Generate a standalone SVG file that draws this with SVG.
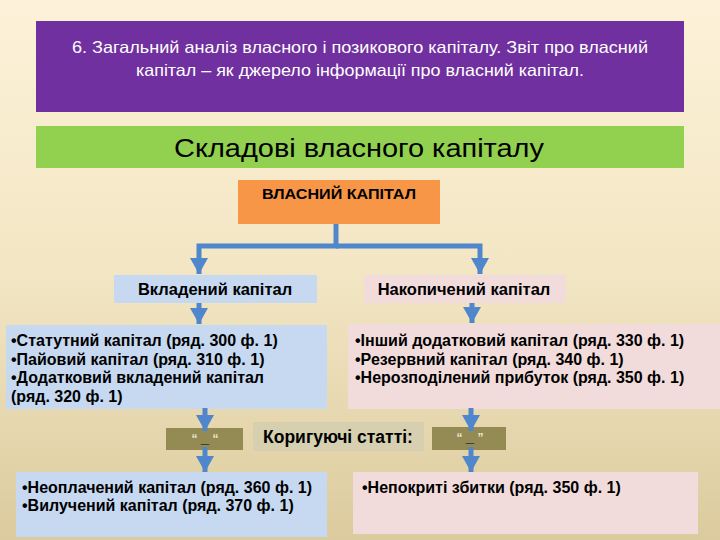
<svg xmlns="http://www.w3.org/2000/svg" width="720" height="540" viewBox="0 0 720 540">
<defs>
<linearGradient id="bg" x1="0" y1="0" x2="0" y2="1">
<stop offset="0" stop-color="#fdf2d9"/>
<stop offset="0.5" stop-color="#f3e6c4"/>
<stop offset="1" stop-color="#dbcb9e"/>
</linearGradient>
<marker id="ah" viewBox="0 0 16 18" refX="16" refY="9" markerWidth="16" markerHeight="18" markerUnits="userSpaceOnUse" orient="auto">
<polygon points="0,0 16,9 0,18" fill="#4f86cc"/>
</marker>
<style>
.t{font-family:"Liberation Sans",Arial,sans-serif;}
.b{font-family:"Liberation Sans",Arial,sans-serif;font-weight:bold;font-size:16px;fill:#000;}
.lb{font-size:16.5px;}
.conn path{fill:none;stroke:#4f86cc;stroke-width:5;marker-end:url(#ah);}
.blue{fill:#c6d9f1;}
.pink{fill:#f2dcdb;}
.olive{fill:#948a54;}
.q{fill:#efe9cf;font-size:12px;font-weight:bold;}
.u{fill:#000;font-size:15px;font-weight:bold;}
</style>
</defs>
<rect width="720" height="540" fill="url(#bg)"/>

<g id="title">
<rect x="36" y="21" width="648" height="91" fill="#7030a0"/>
<text class="t" x="360" y="53" font-size="16.5" fill="#fff" text-anchor="middle" textLength="576" lengthAdjust="spacingAndGlyphs">6. Загальний аналіз власного і позикового капіталу. Звіт про власний</text>
<text class="t" x="360" y="76" font-size="16.5" fill="#fff" text-anchor="middle" textLength="448" lengthAdjust="spacingAndGlyphs">капітал – як джерело інформації про власний капітал.</text>
</g>

<g id="heading">
<rect x="36" y="126" width="648" height="42" fill="#92d050"/>
<text class="t" x="359" y="157" font-size="26" fill="#000" text-anchor="middle" textLength="370" lengthAdjust="spacingAndGlyphs">Складові власного капіталу</text>
</g>

<g id="own-capital">
<rect x="238" y="180" width="202" height="44" fill="#f79646"/>
<text class="t" x="339" y="199" font-size="14" font-weight="bold" fill="#000" text-anchor="middle" textLength="154" lengthAdjust="spacingAndGlyphs">ВЛАСНИЙ КАПІТАЛ</text>
</g>

<g id="invested">
<rect class="blue" x="114" y="275" width="203" height="28"/>
<text class="b lb" x="215" y="295" text-anchor="middle">Вкладений капітал</text>
</g>

<g id="accumulated">
<rect class="pink" x="364" y="275" width="202" height="28"/>
<text class="b lb" x="464" y="295" text-anchor="middle">Накопичений капітал</text>
</g>

<g id="invested-items">
<rect class="blue" x="6" y="325" width="321" height="84"/>
<text class="b" x="11" y="346">•Статутний капітал (ряд. 300 ф. 1)</text>
<text class="b" x="11" y="364.5">•Пайовий капітал (ряд. 310 ф. 1)</text>
<text class="b" x="11" y="383">•Додатковий вкладений капітал</text>
<text class="b" x="11" y="401.5">(ряд. 320 ф. 1)</text>
</g>

<g id="accumulated-items">
<rect class="pink" x="348" y="324" width="372" height="85"/>
<text class="b" x="355" y="346">•Інший додатковий капітал (ряд. 330 ф. 1)</text>
<text class="b" x="355" y="364.5">•Резервний капітал (ряд. 340 ф. 1)</text>
<text class="b" x="355" y="383">•Нерозподілений прибуток (ряд. 350 ф. 1)</text>
</g>

<g id="corrective">
<rect x="253" y="422" width="171" height="29" fill="#d7d0b0"/>
<text class="t" x="338" y="443" font-size="17.5" font-weight="bold" fill="#000" text-anchor="middle">Коригуючі статті:</text>
</g>

<g id="minus-left">
<rect class="olive" x="166" y="428" width="77" height="22"/>
<text class="t" x="205" y="443" text-anchor="middle"><tspan class="q">“ </tspan><tspan class="u">_</tspan><tspan class="q"> “</tspan></text>
</g>

<g id="minus-right">
<rect class="olive" x="432" y="427" width="74" height="23"/>
<text class="t" x="470" y="442" text-anchor="middle"><tspan class="q">“ </tspan><tspan class="u">_</tspan><tspan class="q"> ”</tspan></text>
</g>

<g id="deductions">
<rect class="blue" x="16" y="472" width="311" height="65"/>
<text class="b" x="22" y="493">•Неоплачений капітал (ряд. 360 ф. 1)</text>
<text class="b" x="22" y="511">•Вилучений капітал (ряд. 370 ф. 1)</text>
</g>

<g id="losses">
<rect class="pink" x="353" y="472" width="345" height="62"/>
<text class="b" x="362" y="493">•Непокриті збитки (ряд. 350 ф. 1)</text>
</g>

<g class="conn" id="connectors">
<path d="M336,224 V246 H199 V274"/>
<path d="M336,246 H480 V274"/>
<path d="M199,303 V324"/>
<path d="M472,303 V323"/>
<path d="M205,408 V431"/>
<path d="M205,447 V472"/>
<path d="M471,408 V431"/>
<path d="M471,447 V472"/>
</g>
</svg>
